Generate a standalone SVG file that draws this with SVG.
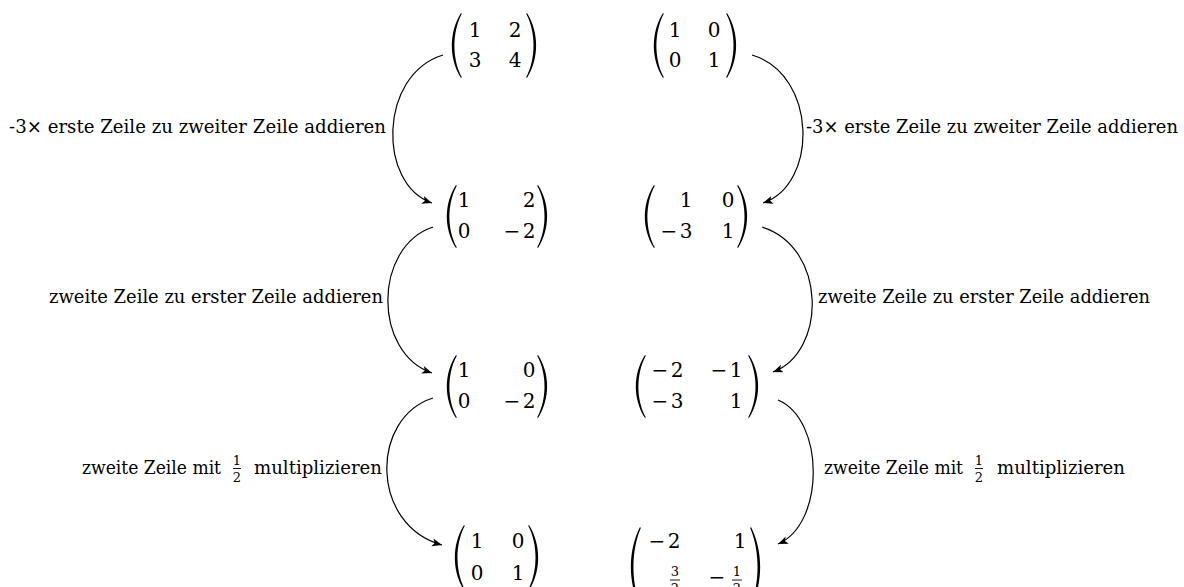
<svg xmlns="http://www.w3.org/2000/svg" xmlns:xlink="http://www.w3.org/1999/xlink" width="1184" height="587" viewBox="0 0 1184 587">
<style>
text{font-family:'DejaVu Serif','Liberation Serif',serif;fill:#000}
.m{font-size:20px;text-anchor:middle}
.f{font-size:13px;text-anchor:middle}
.l{font-size:19px}
.c{fill:none;stroke:#000;stroke-width:1.2}
.bar{stroke:#000;stroke-width:0.9}
</style>
<defs>
<path id="lp" d="M9,0 C-3.2,19 -3.2,45 9,64 L9.8,63.3 C0,45 0,19 9.8,0.7 Z" fill="#000"/>
<marker id="ah" markerUnits="userSpaceOnUse" markerWidth="12" markerHeight="10" refX="10" refY="4" orient="auto">
<path d="M0,0 L10,4 L0,8 L2.5,4 Z" fill="#000"/>
</marker>
</defs>
<rect width="1184" height="587" fill="#fff"/>

<g id="m1">
<use xlink:href="#lp" transform="translate(452,13) scale(1,1.016)"/>
<use xlink:href="#lp" transform="translate(536,13) scale(-1,1.016)"/>
<text class="m" x="475" y="37">1</text><text class="m" x="515" y="37">2</text>
<text class="m" x="475" y="67">3</text><text class="m" x="515" y="67">4</text>
</g>
<g id="m2">
<use xlink:href="#lp" transform="translate(654,13) scale(1,1.016)"/>
<use xlink:href="#lp" transform="translate(736,13) scale(-1,1.016)"/>
<text class="m" x="675" y="37">1</text><text class="m" x="714" y="37">0</text>
<text class="m" x="675" y="67">0</text><text class="m" x="714" y="67">1</text>
</g>
<g id="m3">
<use xlink:href="#lp" transform="translate(447,185) scale(1,0.984)"/>
<use xlink:href="#lp" transform="translate(547,185) scale(-1,0.984)"/>
<text class="m" x="464" y="207">1</text><text class="m" x="529" y="207">2</text>
<text class="m" x="464" y="238">0</text><text class="m" x="512" y="238">−</text><text class="m" x="529" y="238">2</text>
</g>
<g id="m4">
<use xlink:href="#lp" transform="translate(645,185) scale(1,0.984)"/>
<use xlink:href="#lp" transform="translate(747,185) scale(-1,0.984)"/>
<text class="m" x="686" y="207">1</text><text class="m" x="728" y="207">0</text>
<text class="m" x="669" y="238">−</text><text class="m" x="686" y="238">3</text><text class="m" x="728" y="238">1</text>
</g>
<g id="m5">
<use xlink:href="#lp" transform="translate(447,355) scale(1,0.984)"/>
<use xlink:href="#lp" transform="translate(547,355) scale(-1,0.984)"/>
<text class="m" x="464" y="377">1</text><text class="m" x="529" y="377">0</text>
<text class="m" x="464" y="408">0</text><text class="m" x="512" y="408">−</text><text class="m" x="529" y="408">2</text>
</g>
<g id="m6">
<use xlink:href="#lp" transform="translate(636,355) scale(1,0.984)"/>
<use xlink:href="#lp" transform="translate(758,355) scale(-1,0.984)"/>
<text class="m" x="660" y="377">−</text><text class="m" x="677" y="377">2</text><text class="m" x="719" y="377">−</text><text class="m" x="736" y="377">1</text>
<text class="m" x="660" y="408">−</text><text class="m" x="677" y="408">3</text><text class="m" x="736" y="408">1</text>
</g>
<g id="m7">
<use xlink:href="#lp" transform="translate(455,525) scale(1,1.02)"/>
<use xlink:href="#lp" transform="translate(538,525) scale(-1,1.02)"/>
<text class="m" x="477" y="548">1</text><text class="m" x="518" y="548">0</text>
<text class="m" x="477" y="580">0</text><text class="m" x="518" y="580">1</text>
</g>
<g id="m8">
<use xlink:href="#lp" transform="translate(631,527) scale(1,1.25)"/>
<use xlink:href="#lp" transform="translate(760,527) scale(-1,1.25)"/>
<text class="m" x="657" y="548">−</text><text class="m" x="674" y="548">2</text><text class="m" x="740" y="548">1</text>
<text class="f" x="675" y="576">3</text><line class="bar" x1="670" y1="580" x2="680" y2="580"/><text class="f" x="675" y="593">2</text>
<text class="m" x="717" y="584">−</text>
<text class="f" x="737" y="576">1</text><line class="bar" x1="732" y1="580" x2="742" y2="580"/><text class="f" x="737" y="593">2</text>
</g>

<g id="connectors">
<path class="c" d="M443,55 C378,75 378,185 432,203" marker-end="url(#ah)"/>
<path class="c" d="M752,55 C818,75 818,185 763,203" marker-end="url(#ah)"/>
<path class="c" d="M433,227 C373,247 373,353 432,373" marker-end="url(#ah)"/>
<path class="c" d="M762,227 C827,247 827,352 773,372" marker-end="url(#ah)"/>
<path class="c" d="M433,398 C370,418 370,525 442,545" marker-end="url(#ah)"/>
<path class="c" d="M778,400 C825,420 825,524 778,544" marker-end="url(#ah)"/>
</g>

<g id="labels">
<text class="l" x="9" y="133" textLength="377" lengthAdjust="spacingAndGlyphs">-3× erste Zeile zu zweiter Zeile addieren</text>
<text class="l" x="806" y="133" textLength="372" lengthAdjust="spacingAndGlyphs">-3× erste Zeile zu zweiter Zeile addieren</text>
<text class="l" x="49" y="303" textLength="334" lengthAdjust="spacingAndGlyphs">zweite Zeile zu erster Zeile addieren</text>
<text class="l" x="818" y="303" textLength="332" lengthAdjust="spacingAndGlyphs">zweite Zeile zu erster Zeile addieren</text>
<text class="l" x="82" y="474" textLength="139" lengthAdjust="spacingAndGlyphs">zweite Zeile mit</text>
<text class="f" x="237" y="465">1</text><line class="bar" x1="233" y1="468.5" x2="241" y2="468.5"/><text class="f" x="237" y="482">2</text>
<text class="l" x="254" y="474" textLength="128" lengthAdjust="spacingAndGlyphs">multiplizieren</text>
<text class="l" x="824" y="474" textLength="139" lengthAdjust="spacingAndGlyphs">zweite Zeile mit</text>
<text class="f" x="979" y="465">1</text><line class="bar" x1="975" y1="468.5" x2="983" y2="468.5"/><text class="f" x="979" y="482">2</text>
<text class="l" x="997" y="474" textLength="128" lengthAdjust="spacingAndGlyphs">multiplizieren</text>
</g>
</svg>
